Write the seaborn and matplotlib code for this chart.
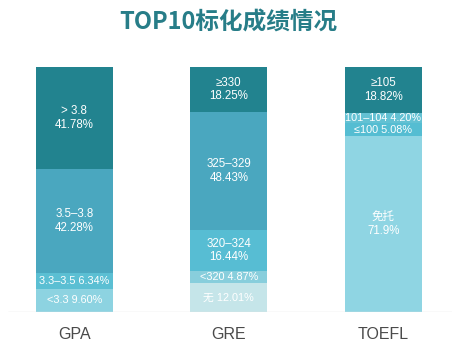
import numpy as np
import pandas as pd
import seaborn as sns
from matplotlib import pyplot as plt

# data, bottom segment first
categories = ['GPA', 'GRE', 'TOEFL']
gpa_labels = ['<3.3', '3.3–3.5', '3.5–3.8', '> 3.8']
gpa_values = [9.60, 6.34, 42.28, 41.78]
gre_labels = ['无', '<320', '320–324', '325–329', '≥330']
gre_values = [12.01, 4.87, 16.44, 48.43, 18.25]
toefl_labels = ['免托', '≤100', '101–104', '≥105']
toefl_values = [71.9, 5.08, 4.20, 18.82]

gpa_colors = ['#8dd3e1', '#5bbfd3', '#4aa7bf', '#22838f']
gre_colors = ['#c5e5e9', '#88cedc', '#57bdd3', '#4aa7bf', '#22838f']
toefl_colors = ['#8fd5e3', '#55bdd2', '#63c1d3', '#22838f']

# small segments get a single line label
single_line = {'3.3–3.5', '<3.3', '<320', '无', '101–104', '≤100'}

rows = []
for cat, labels, values, colors in [('GPA', gpa_labels, gpa_values, gpa_colors),
                                    ('GRE', gre_labels, gre_values, gre_colors),
                                    ('TOEFL', toefl_labels, toefl_values, toefl_colors)]:
    cum = np.cumsum(values)
    for lab, v, c, top in zip(labels, values, colors, cum):
        rows.append({'cat': cat, 'label': lab, 'value': v, 'top': top, 'color': c})
df = pd.DataFrame(rows)

sns.set_style('white')
plt.rcParams['font.family'] = ['Liberation Sans', 'Noto Sans CJK SC', 'DejaVu Sans']

fig = plt.figure(figsize=(4.61, 3.53), dpi=100)
ax = fig.add_axes([0.017, 0.116, 0.963, 0.694])

# stacked bars: draw cumulative tops from tallest to shortest
for _, r in df.sort_values('top', ascending=False).iterrows():
    sns.barplot(x=[r['cat']], y=[r['top']], order=categories, color=r['color'],
                saturation=1, width=0.5, ax=ax, linewidth=0)

for _, r in df.iterrows():
    x = categories.index(r['cat'])
    y = r['top'] - r['value'] / 2
    if r['label'] in single_line:
        txt = f"{r['label']} {r['value']:.2f}%"
        fs = 7.8
    else:
        val = f"{r['value']:.1f}%" if r['label'] == '免托' else f"{r['value']:.2f}%"
        txt = f"{r['label']}\n{val}"
        fs = 8.3
    ax.text(x, y, txt, ha='center', va='center', color='white', fontsize=fs,
            linespacing=1.2)

ax.axhline(0, color='#e2e2e2', linewidth=1)
ax.set_xlim(-0.43, 2.443)
ax.set_ylim(0, 100)
ax.set_xlabel('')
ax.set_ylabel('')
ax.set_yticks([])
ax.tick_params(axis='x', length=0, pad=11, labelsize=11.5, labelcolor='#4a4a4a')
sns.despine(ax=ax, left=True, bottom=True)

fig.text(0.495, 0.937, 'TOP10标化成绩情况', ha='center', va='center',
         fontsize=17, fontweight='bold', color='#277d88',
         family=['Noto Sans CJK SC', 'DejaVu Sans'])

fig.savefig('out.png', dpi=100)
